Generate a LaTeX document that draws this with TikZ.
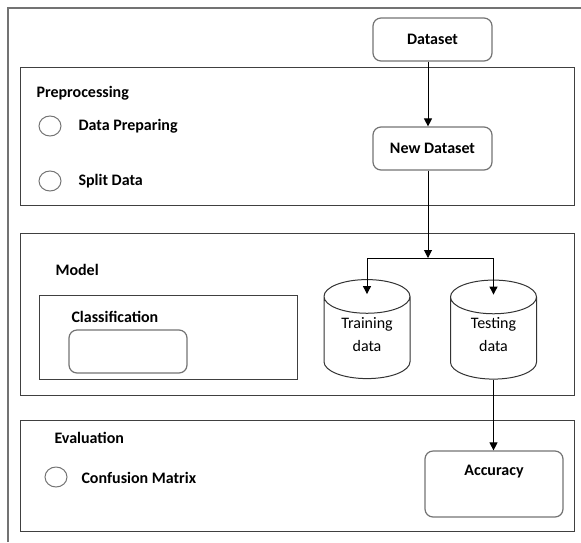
\documentclass[tikz,border=0pt]{standalone}
\usepackage{fontspec}
\setmainfont{Carlito}
\usetikzlibrary{shapes.geometric,arrows.meta,calc}
\newcommand{\figfont}{\fontsize{16}{23}\selectfont}
\colorlet{framecolor}{black!75}
\colorlet{boxcolor}{black!55}
\tikzset{
  rbox/.style={draw=boxcolor, line width=1.2pt, rounded corners=8pt, minimum width=119, minimum height=43, font=\figfont\bfseries},
  dot/.style={draw=boxcolor, line width=1pt, ellipse, minimum width=22, minimum height=20, inner sep=0pt},
  can/.style={draw=black!80, line width=1pt, cylinder, shape border rotate=90, aspect=0.58, minimum width=86, minimum height=99, align=center, font=\figfont},
  cantext/.style={align=center, font=\figfont, yshift=6.5pt},
  title/.style={anchor=west, font=\figfont\bfseries},
  arr/.style={-{Triangle[width=8pt,length=8pt]}, line width=1pt}
}
\begin{document}
\begin{tikzpicture}[x=1pt,y=-1pt]
 \useasboundingbox (0,0) rectangle (581,542);
 \draw[boxcolor, line width=1.2pt] (8,542) -- (8,8) -- (581,8);
 % sections
 \draw[framecolor, line width=1pt] (20,67) rectangle (574,205);
 \draw[framecolor, line width=1pt] (20,233) rectangle (574,395);
 \draw[framecolor, line width=1pt] (20,420) rectangle (574,531);
 \draw[framecolor, line width=1pt] (39,295) rectangle (297,379);
 \node[title] (pre) at (33,93) {Preprocessing};
 \node[title] (mod) at (52,270) {Model};
 \node[title] (eval) at (51,438) {Evaluation};
 % preprocessing
 \node[rbox] (ds) at (432.5,39.5) {Dataset};
 \node[rbox] (nds) at (432.5,148.5) {New Dataset};
 \node[dot] (prep) at (50,126) {};
 \node[title] at (75,126) {Data Preparing};
 \node[dot] (split) at (50,181) {};
 \node[title] at (75,181) {Split Data};
 % model
 \node[title] (cls) at (68,317) {Classification};
 \node[rbox, minimum width=118] (clsbox) at (128,351.5) {};
 \node[can, label={[cantext]center:Training\\data}] (train) at (367,341) {\phantom{Training}\\\phantom{data}};
 \node[can, label={[cantext]center:Testing\\data}] (test) at (493.5,341.5) {\phantom{Training}\\\phantom{data}};
 % evaluation
 \node[dot] (conf) at (56,477) {};
 \node[title] at (78,478) {Confusion Matrix};
 \node[rbox, minimum width=138, minimum height=66,
   label={[anchor=north, yshift=-11pt, font=\figfont\bfseries]north:Accuracy}] (acc) at (494,484) {};
 % connectors
 \coordinate (fork) at (428,258);
 \draw[arr] (ds.south -| fork) -- (nds.north -| fork);
 \draw[arr] (nds.south -| fork) -- (fork);
 \draw[line width=1pt] (fork -| train) -- (fork -| test);
 \draw[arr] (fork -| train) -- ($(train.top)+(0,15)$);
 \draw[arr] (fork -| test) -- ($(test.top)+(0,15)$);
 \draw[arr] (test.bottom) -- (test.bottom |- acc.north);
\end{tikzpicture}
\end{document}
